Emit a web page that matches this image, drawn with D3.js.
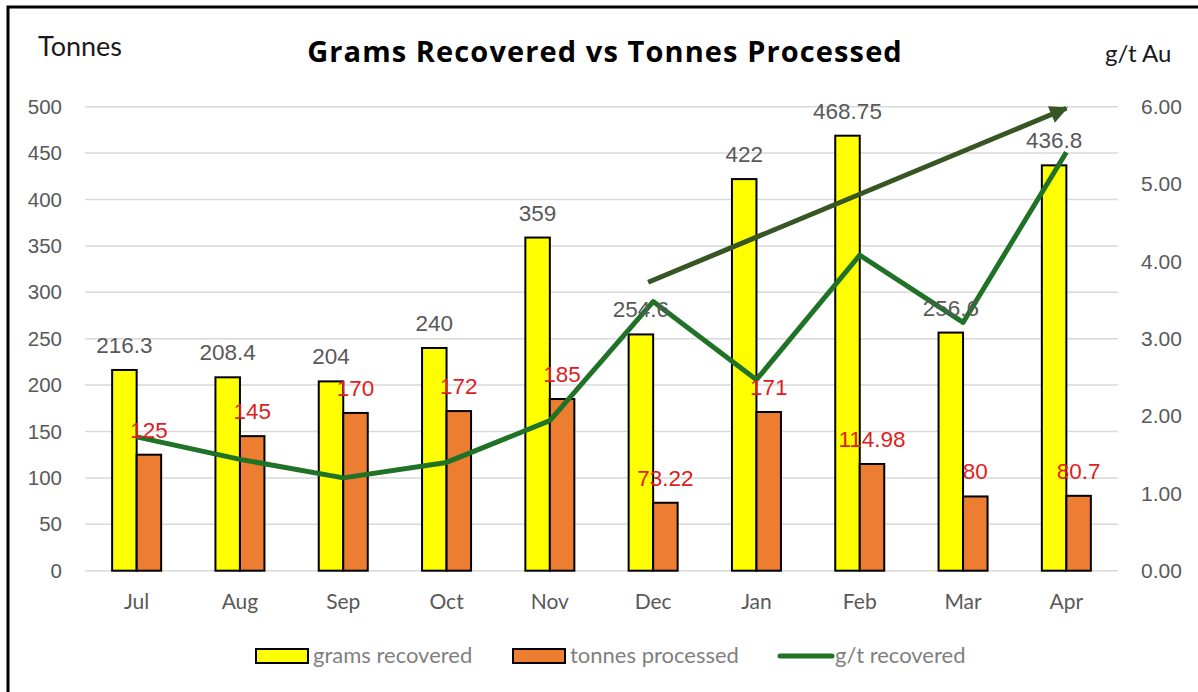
<!DOCTYPE html>
<html>
<head>
<meta charset="utf-8">
<script src="https://cdn.jsdelivr.net/npm/d3@7"></script>
<style>
  body { margin: 0; background: #fff; }
  svg { display: block; }
</style>
</head>
<body>
<div id="chart-area"></div>
<script>
// data
var months = ["Jul", "Aug", "Sep", "Oct", "Nov", "Dec", "Jan", "Feb", "Mar", "Apr"];
var grams = [216.3, 208.4, 204, 240, 359, 254.6, 422, 468.75, 256.6, 436.8];
var tonnes = [125, 145, 170, 172, 185, 73.22, 171, 114.98, 80, 80.7];
var gpt = [1.73, 1.44, 1.20, 1.40, 1.94, 3.48, 2.47, 4.08, 3.21, 5.41];
var leftTicks = [0, 50, 100, 150, 200, 250, 300, 350, 400, 450, 500];
var rightTicks = [0, 1, 2, 3, 4, 5, 6];
// trend arrow (category, g/t)
var trend = [["Dec", 3.73], ["Apr", 5.98]];

var W = 1198, H = 692;
var plot = {left: 85, right: 1118, top: 106.7, bottom: 570.7};

var svg = d3.select("#chart-area")
    .append("svg")
        .attr("width", W)
        .attr("height", H);

// outer frame
svg.append("rect")
    .attr("x", 8).attr("y", 7)
    .attr("width", W + 10).attr("height", H + 10)
    .attr("fill", "#fff")
    .attr("stroke", "#000")
    .attr("stroke-width", 3);

var x = d3.scaleBand()
    .domain(months)
    .range([plot.left, plot.right]);

var x1 = d3.scaleBand()
    .domain(["grams", "tonnes"])
    .range([0, x.bandwidth()])
    .paddingOuter(1.108);

var yL = d3.scaleLinear()
    .domain([0, 500])
    .range([plot.bottom, plot.top]);

var yR = d3.scaleLinear()
    .domain([0, 6])
    .range([plot.bottom, plot.top]);

// gridlines
svg.append("g")
    .selectAll("line")
    .data(leftTicks)
    .enter().append("line")
        .attr("x1", plot.left)
        .attr("x2", plot.right)
        .attr("y1", function(d){ return yL(d); })
        .attr("y2", function(d){ return yL(d); })
        .attr("stroke", "#d9d9d9")
        .attr("stroke-width", 1.5);

// left axis
var leftAxis = d3.axisLeft(yL).tickValues(leftTicks).tickSize(0).tickPadding(23);
var gLeft = svg.append("g")
    .attr("transform", "translate(" + plot.left + ",0)")
    .call(leftAxis);
gLeft.select(".domain").remove();
gLeft.selectAll("text")
    .attr("font-family", "Liberation Sans, Arial, sans-serif")
    .attr("font-size", "20.5px")
    .attr("fill", "#595959");

// right axis
var rightAxis = d3.axisRight(yR).tickValues(rightTicks).tickSize(0).tickPadding(23)
    .tickFormat(d3.format(".2f"));
var gRight = svg.append("g")
    .attr("transform", "translate(" + plot.right + ",0)")
    .call(rightAxis);
gRight.select(".domain").remove();
gRight.selectAll("text")
    .attr("font-family", "Liberation Sans, Arial, sans-serif")
    .attr("font-size", "21px")
    .attr("fill", "#595959");

// x axis
var xAxis = d3.axisBottom(x).tickSize(0).tickPadding(23);
var gX = svg.append("g")
    .attr("transform", "translate(0," + plot.bottom + ")")
    .call(xAxis);
gX.select(".domain").remove();
gX.selectAll("text")
    .attr("font-family", "Lato, sans-serif")
    .attr("font-size", "21px")
    .attr("fill", "#595959");

var rows = months.map(function(m, i){
    return {month: m, grams: grams[i], tonnes: tonnes[i], gpt: gpt[i]};
});

// bars
svg.append("g").selectAll("rect")
    .data(rows)
    .enter().append("rect")
        .attr("x", function(d){ return x(d.month) + x1("grams"); })
        .attr("y", function(d){ return yL(d.grams); })
        .attr("width", x1.bandwidth())
        .attr("height", function(d){ return plot.bottom - yL(d.grams); })
        .attr("fill", "#ffff00")
        .attr("stroke", "#000")
        .attr("stroke-width", 2);

svg.append("g").selectAll("rect")
    .data(rows)
    .enter().append("rect")
        .attr("x", function(d){ return x(d.month) + x1("tonnes"); })
        .attr("y", function(d){ return yL(d.tonnes); })
        .attr("width", x1.bandwidth())
        .attr("height", function(d){ return plot.bottom - yL(d.tonnes); })
        .attr("fill", "#ed7d31")
        .attr("stroke", "#000")
        .attr("stroke-width", 2);

// g/t line
var line = d3.line()
    .x(function(d){ return x(d.month) + x.bandwidth() / 2; })
    .y(function(d){ return yR(d.gpt); });

svg.append("path")
    .datum(rows)
    .attr("d", line)
    .attr("fill", "none")
    .attr("stroke", "#1f7226")
    .attr("stroke-width", 5)
    .attr("stroke-linejoin", "round");

// data labels
svg.append("g").selectAll("text")
    .data(rows)
    .enter().append("text")
        .attr("x", function(d){ return x(d.month) + x1("grams") + x1.bandwidth() / 2; })
        .attr("y", function(d){ return yL(d.grams) - 17; })
        .attr("text-anchor", "middle")
        .attr("font-family", "Liberation Sans, Arial, sans-serif")
        .attr("font-size", "22.5px")
        .attr("fill", "#595959")
        .text(function(d){ return d.grams; });

svg.append("g").selectAll("text")
    .data(rows)
    .enter().append("text")
        .attr("x", function(d){ return x(d.month) + x1("tonnes") + x1.bandwidth() / 2; })
        .attr("y", function(d){ return yL(d.tonnes) - 17; })
        .attr("text-anchor", "middle")
        .attr("font-family", "Liberation Sans, Arial, sans-serif")
        .attr("font-size", "22.5px")
        .attr("fill", "#e0201e")
        .text(function(d){ return d.tonnes; });

// trend arrow
svg.append("defs").append("marker")
    .attr("id", "head")
    .attr("viewBox", "0 0 10 10")
    .attr("refX", 9).attr("refY", 5)
    .attr("markerWidth", 4.2).attr("markerHeight", 3.6)
    .attr("markerUnits", "strokeWidth")
    .attr("orient", "auto")
    .append("path")
        .attr("d", "M0,0 L10,5 L0,10 Z")
        .attr("fill", "#375623");

svg.append("line")
    .attr("x1", x(trend[0][0]) + x.bandwidth() / 2 - 5)
    .attr("y1", yR(trend[0][1]))
    .attr("x2", x(trend[1][0]) + x.bandwidth() / 2)
    .attr("y2", yR(trend[1][1]))
    .attr("stroke", "#375623")
    .attr("stroke-width", 5)
    .attr("marker-end", "url(#head)");

// titles
svg.append("text")
    .attr("x", 605).attr("y", 62)
    .attr("text-anchor", "middle")
    .attr("font-family", "Open Sans, sans-serif")
    .attr("font-weight", "bold")
    .attr("font-size", "29px")
    .attr("letter-spacing", "1.1px")
    .attr("fill", "#000")
    .text("Grams Recovered vs Tonnes Processed");

svg.append("text")
    .attr("x", 38).attr("y", 56)
    .attr("font-family", "Lato, sans-serif")
    .attr("font-size", "27px")
    .attr("fill", "#1a1a1a")
    .text("Tonnes");

svg.append("text")
    .attr("x", 1105).attr("y", 62)
    .attr("font-family", "Lato, sans-serif")
    .attr("font-size", "24px")
    .attr("fill", "#1a1a1a")
    .text("g/t Au");

// legend
var legend = [
    {label: "grams recovered", type: "rect", color: "#ffff00", x: 256},
    {label: "tonnes processed", type: "rect", color: "#ed7d31", x: 513},
    {label: "g/t recovered", type: "line", color: "#1f7226", x: 778}
];
var lg = svg.append("g").selectAll("g")
    .data(legend)
    .enter().append("g")
        .attr("transform", function(d){ return "translate(" + d.x + ",656)"; });

lg.filter(function(d){ return d.type === "rect"; })
    .append("rect")
        .attr("x", 0).attr("y", -7)
        .attr("width", 52).attr("height", 14)
        .attr("fill", function(d){ return d.color; })
        .attr("stroke", "#000")
        .attr("stroke-width", 2);

lg.filter(function(d){ return d.type === "line"; })
    .append("line")
        .attr("x1", 2).attr("x2", 54)
        .attr("y1", 0).attr("y2", 0)
        .attr("stroke", function(d){ return d.color; })
        .attr("stroke-width", 5)
        .attr("stroke-linecap", "round");

lg.append("text")
    .attr("x", 57)
    .attr("y", 7)
    .attr("font-family", "Lato, sans-serif")
    .attr("font-size", "22px")
    .attr("fill", "#7f7f7f")
    .text(function(d){ return d.label; });
</script>
</body>
</html>
